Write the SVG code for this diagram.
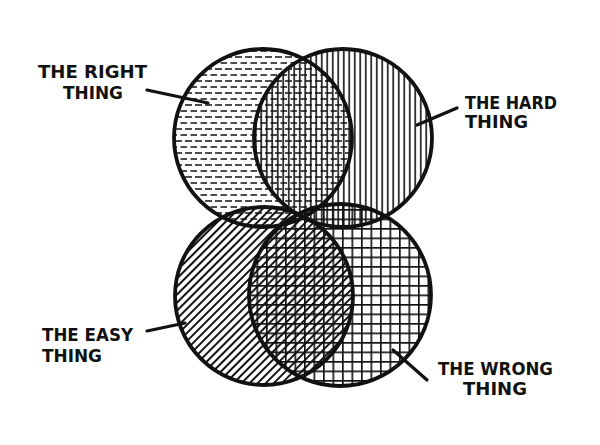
<svg xmlns="http://www.w3.org/2000/svg" width="600" height="445" viewBox="0 0 600 445">
<style>
.ring{stroke:#111;stroke-width:3.8;}
.lbl{font-family:"DejaVu Sans","Liberation Sans",sans-serif;font-weight:bold;font-size:17px;fill:#111;}
.lead{stroke:#111;stroke-width:3.2;stroke-linecap:round;fill:none;}
</style>
<defs>
<pattern id="dash" width="10" height="12" patternUnits="userSpaceOnUse">
<path d="M0.5 3H7M5 9H10M0 9H2" stroke="#111" stroke-width="1.7"/>
</pattern>
<pattern id="vert" width="5.5" height="10" patternUnits="userSpaceOnUse">
<path d="M2.75 0V10" stroke="#111" stroke-width="1.6"/>
</pattern>
<pattern id="diag" width="5.7" height="10" patternUnits="userSpaceOnUse" patternTransform="rotate(45)">
<path d="M2.85 0V10" stroke="#111" stroke-width="2"/>
</pattern>
<pattern id="grid" width="9.5" height="9.5" patternUnits="userSpaceOnUse">
<path d="M0.8 0V9.5M0 0.8H9.5" stroke="#111" stroke-width="1.7"/>
</pattern>
</defs>
<rect width="600" height="445" fill="#fff"/>
<g id="right-thing">
<circle class="ring" cx="263" cy="138" r="89" fill="url(#dash)"/>
<text class="lbl" x="38" y="78" textLength="109" lengthAdjust="spacingAndGlyphs">THE RIGHT</text>
<text class="lbl" x="63" y="99" textLength="60" lengthAdjust="spacingAndGlyphs">THING</text>
</g>
<g id="hard-thing">
<circle class="ring" cx="343" cy="138" r="89" fill="url(#vert)"/>
<text class="lbl" x="465" y="109" textLength="92" lengthAdjust="spacingAndGlyphs">THE HARD</text>
<text class="lbl" x="465" y="128" textLength="63" lengthAdjust="spacingAndGlyphs">THING</text>
</g>
<g id="easy-thing">
<circle class="ring" cx="264" cy="296" r="89" fill="url(#diag)"/>
<text class="lbl" x="42" y="341" textLength="91" lengthAdjust="spacingAndGlyphs">THE EASY</text>
<text class="lbl" x="42" y="362" textLength="60" lengthAdjust="spacingAndGlyphs">THING</text>
</g>
<g id="wrong-thing">
<circle class="ring" cx="340" cy="295" r="91" fill="url(#grid)"/>
<text class="lbl" x="438" y="375" textLength="115" lengthAdjust="spacingAndGlyphs">THE WRONG</text>
<text class="lbl" x="463" y="395" textLength="64" lengthAdjust="spacingAndGlyphs">THING</text>
</g>
<g id="connectors">
<line class="lead" x1="147" y1="90" x2="208" y2="103"/>
<line class="lead" x1="457" y1="108" x2="417" y2="125"/>
<line class="lead" x1="147" y1="331" x2="185" y2="323"/>
<line class="lead" x1="393" y1="350" x2="427" y2="380"/>
</g>
</svg>
